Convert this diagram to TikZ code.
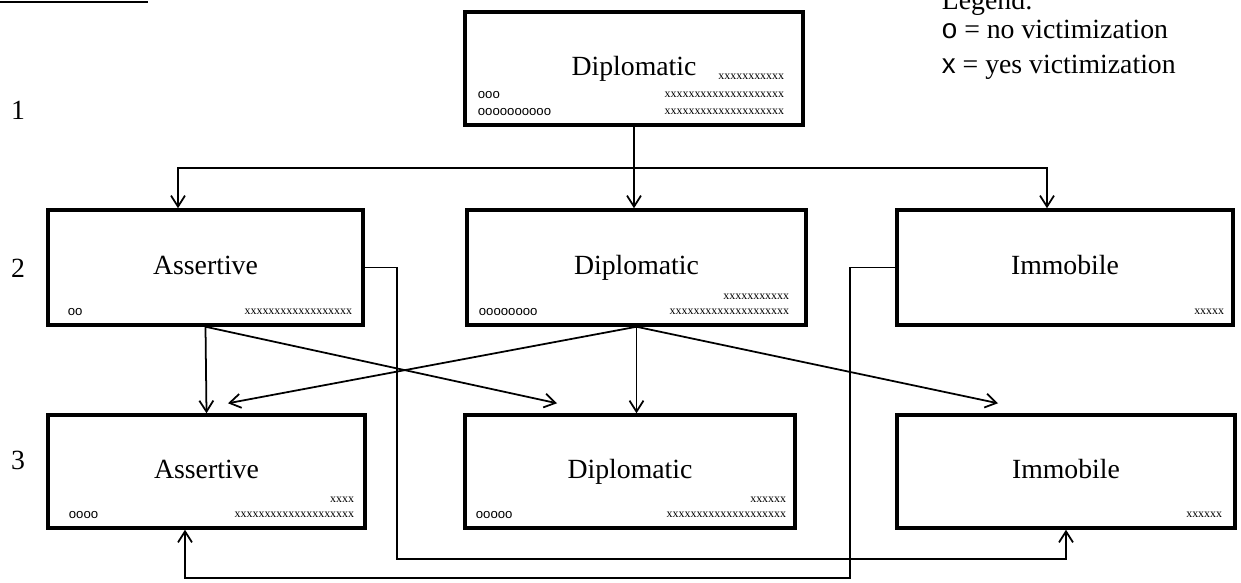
\documentclass[tikz,border=0pt]{standalone}
\usepackage{fontspec}
\setmainfont{Liberation Serif}
\newfontfamily\markfont{Liberation Sans}
\usetikzlibrary{arrows.meta}

\begin{document}
\begin{tikzpicture}[x=0.02cm,y=-0.02cm,line width=1pt,>={Straight Barb[length=2.2mm,width=2.8mm]}]
    \tikzstyle{block}=[draw,line width=2pt,inner sep=0pt,text height=11pt,text depth=3.5pt,font=\fontsize{15.8}{19}\selectfont]
    \tikzstyle{txt}=[inner sep=0pt,font=\fontsize{15.8}{19}\selectfont]
    \tikzstyle{yes}=[inner sep=0pt,anchor=east,font=\fontsize{6.8}{8}\selectfont]
    \tikzstyle{no}=[inner sep=0pt,anchor=west,font=\markfont\fontsize{7.5}{9}\selectfont]

    \useasboundingbox (0,0) rectangle (1241,582);
    \draw (0,2) -- (148,2);

    % legend
    \node[txt,anchor=base west] (legend) at (941,9) {Legend:};
    \node[txt,anchor=base west] (leg_no) at (941,38) {{\markfont o} = no victimization};
    \node[txt,anchor=base west] (leg_yes) at (941,73) {{\markfont x} = yes victimization};

    % rows
    \node[txt] (row1) at (18,110) {1};
    \node[txt] (row2) at (18,268) {2};
    \node[txt] (row3) at (18,460) {3};

    \node[block,minimum width=6.76cm,minimum height=2.26cm] (top) at (634,68.5) {Diplomatic};
    \node[block,minimum width=6.3cm,minimum height=2.3cm] (as2) at (205.5,267.5) {Assertive};
    \node[block,minimum width=6.78cm,minimum height=2.3cm] (di2) at (636.5,267.5) {Diplomatic};
    \node[block,minimum width=6.72cm,minimum height=2.3cm] (im2) at (1065,267.5) {Immobile};
    \node[block,minimum width=6.34cm,minimum height=2.26cm] (as3) at (206.5,471.5) {Assertive};
    \node[block,minimum width=6.6cm,minimum height=2.26cm] (di3) at (630,471.5) {Diplomatic};
    \node[block,minimum width=6.76cm,minimum height=2.26cm] (im3) at (1066,471.5) {Immobile};

    % counts
    \node[yes] (top_x1) at (785,77) {xxxxxxxxxxx};
    \node[yes] (top_x2) at (785,95) {xxxxxxxxxxxxxxxxxxxx};
    \node[yes] (top_x3) at (785,112) {xxxxxxxxxxxxxxxxxxxx};
    \node[no] (top_o1) at (477,95) {ooo};
    \node[no] (top_o2) at (477,112) {oooooooooo};

    \node[no] (as2_o) at (67,312) {oo};
    \node[yes] (as2_x) at (353,312) {xxxxxxxxxxxxxxxxxx};
    \node[no] (di2_o) at (478,312) {oooooooo};
    \node[yes] (di2_x1) at (790,297) {xxxxxxxxxxx};
    \node[yes] (di2_x2) at (790,312) {xxxxxxxxxxxxxxxxxxxx};
    \node[yes] (im2_x) at (1225,312) {xxxxx};

    \node[no] (as3_o) at (68,515) {oooo};
    \node[yes] (as3_x1) at (355,500) {xxxx};
    \node[yes] (as3_x2) at (355,515) {xxxxxxxxxxxxxxxxxxxx};
    \node[no] (di3_o) at (475,515) {ooooo};
    \node[yes] (di3_x1) at (787,500) {xxxxxx};
    \node[yes] (di3_x2) at (787,515) {xxxxxxxxxxxxxxxxxxxx};
    \node[yes] (im3_x) at (1223,515) {xxxxxx};

    % arrows
    \coordinate (fork) at (634,168);
    \draw[->] (top.south) -- (top.south |- di2.north);
    \draw[->] (fork) -| ([xshift=-0.55cm]as2.north);
    \draw[->] (fork) -| ([xshift=-0.36cm]im2.north);

    \draw[->] (as2.south) -- (as3.north);
    \draw[->] (as2.south) -- ([shift={(-1.46cm,0.2cm)}]di3.north);
    \draw[->] (di2.south) -- ([shift={(0.43cm,0.2cm)}]as3.north);
    \draw[->] (di2.south) -- (di2.south |- di3.north);
    \draw[->] (di2.south) -- ([shift={(-1.36cm,0.2cm)}]im3.north);

    \draw[->] (as2.east) -- (397,267.5) -- (397,559) -| (im3.south);
    \draw[->] (im2.west) -- (850,267.5) -- (850,578) -| ([xshift=-0.43cm]as3.south);
\end{tikzpicture}
\end{document}
